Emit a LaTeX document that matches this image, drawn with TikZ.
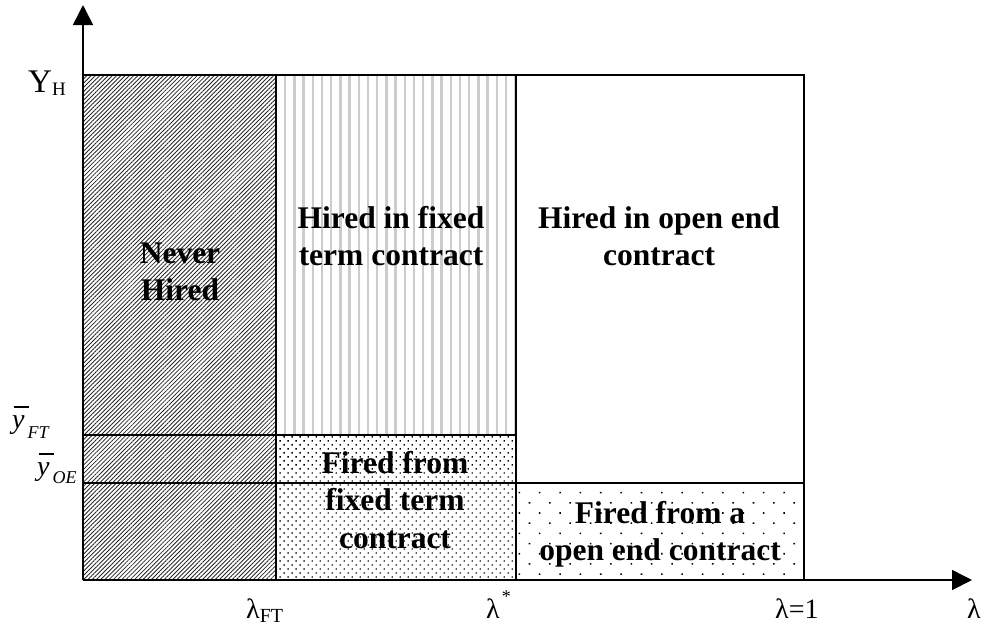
\documentclass[tikz,border=0pt]{standalone}
\usepackage{fontspec}
\setmainfont{Liberation Serif}
\usetikzlibrary{patterns.meta,arrows.meta}
\tikzset{
  cellline/.style={line width=1.8pt,black},
  axisline/.style={line width=1.6pt,-{Triangle[length=20pt,width=20pt]}},
  celltext/.style={font=\fontsize{31.5}{37.5}\selectfont\bfseries, align=center, inner sep=0pt},
  axlabel/.style={inner sep=0pt, anchor=base west},
  hatchfill/.style={pattern={Lines[angle=45,distance=3pt,line width=0.85pt]}, pattern color=black!85},
  vlinefill/.style={pattern={Lines[angle=90,distance=9.2pt,line width=2.4pt]}, pattern color=black!20},
  densedots/.style={pattern={Dots[angle=45,distance=5.66pt,radius=0.95pt]}, pattern color=black},
  sparsedots/.style={pattern={Dots[angle=45,distance=14.4pt,radius=1.1pt]}, pattern color=black},
}
\newcommand\ybar{\leavevmode\rlap{\hspace{0.05em}\rule[0.72em]{0.56em}{0.06em}}\textit{y}}
\begin{document}
\begin{tikzpicture}[x=1pt,y=-1pt]
\useasboundingbox (0,0) rectangle (984,625);
\coordinate (O) at (83,580);
\coordinate (ytip) at (83,5);
\coordinate (xtip) at (972,580);
% fills
\path[hatchfill] (83,75) rectangle (276,580);
\path[vlinefill] (276,75) rectangle (516,435);
\path[densedots] (276,435) rectangle (516,580);
\path[sparsedots] (516,483) rectangle (804,580);
% cell borders
\draw[cellline] (83,75) -- (804,75) -- (804,580);
\draw[cellline] (276,75) -- (276,580);
\draw[cellline] (516,75) -- (516,580);
\draw[cellline] (83,435) -- (516,435);
\draw[cellline] (83,483) -- (804,483);
% axes
\draw[axisline] (O) -- (ytip);
\draw[axisline] (O) -- (xtip);
% cell texts
\node[celltext] (never) at (180,272) {Never\\Hired};
\node[celltext] (hft) at (391,236) {Hired in fixed\\term contract};
\node[celltext] (hoe) at (659,236) {Hired in open end\\contract};
\node[celltext] (fft) at (395,500) {Fired from\\fixed term\\contract};
\node[celltext] (foe) at (660,534) {Fired from a\\open end contract};
% axis labels
\node[axlabel] (yH) at (28,92) {\fontsize{33}{33}\selectfont Y\raisebox{-3pt}{\fontsize{19}{19}\selectfont H}};
\node[axlabel] (yFT) at (12,428) {\fontsize{28}{28}\selectfont\ybar\kern3pt\raisebox{-10pt}{\fontsize{18}{18}\selectfont\itshape FT}};
\node[axlabel] (yOE) at (37,475) {\fontsize{28}{28}\selectfont\ybar\kern3pt\raisebox{-8pt}{\fontsize{18}{18}\selectfont\itshape OE}};
\node[axlabel] (lFT) at (246,618) {\fontsize{28}{28}\selectfont λ\raisebox{-4pt}{\fontsize{20}{20}\selectfont FT}};
\node[axlabel] (lstar) at (486,618) {\fontsize{28}{28}\selectfont λ\kern2pt\raisebox{16pt}{\fontsize{18}{18}\selectfont *}};
\node[axlabel] (lone) at (775,618) {\fontsize{28}{28}\selectfont λ=1};
\node[axlabel] (lam) at (967,618) {\fontsize{28}{28}\selectfont λ};
\end{tikzpicture}
\end{document}
